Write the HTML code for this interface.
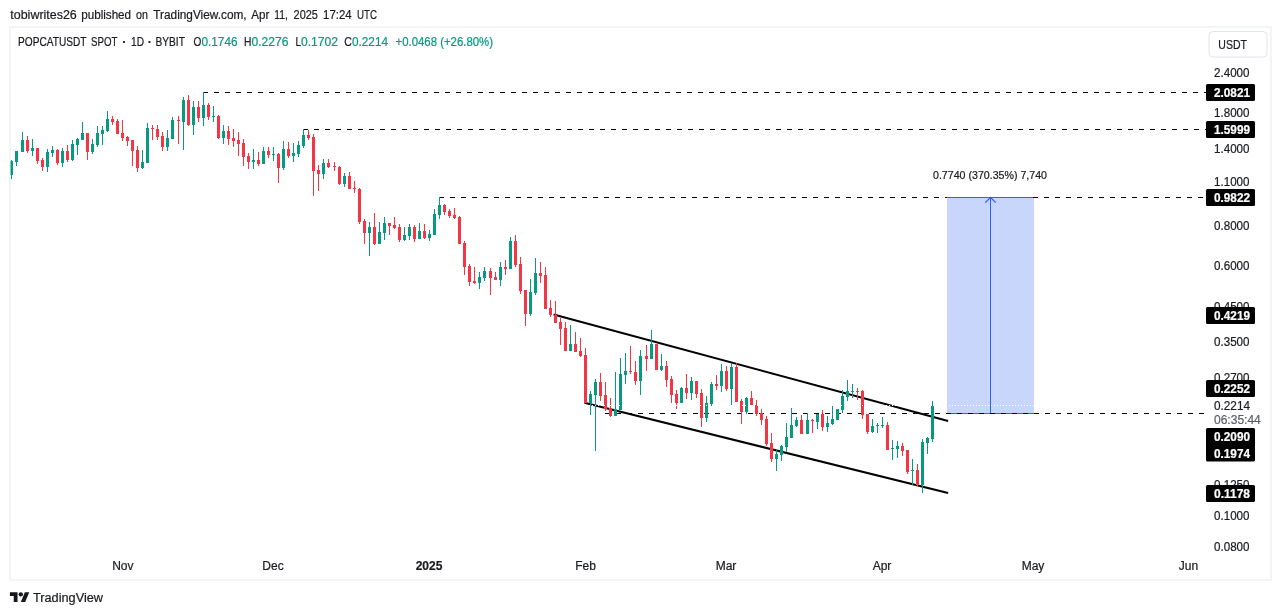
<!DOCTYPE html>
<html><head><meta charset="utf-8"><title>POPCATUSDT chart</title>
<style>
html,body{margin:0;padding:0;background:#fff;}
body{width:1281px;height:615px;overflow:hidden;position:relative;font-family:"Liberation Sans",sans-serif;}
svg{position:absolute;left:0;top:0;display:block;will-change:transform;}
text{font-family:"Liberation Sans",sans-serif;stroke-width:0.22px;}
</style></head><body>
<svg width="1281" height="615" viewBox="0 0 1281 615">
<rect x="0" y="0" width="1281" height="615" fill="#ffffff"/>

<rect x="10" y="27" width="1261" height="553" fill="none" stroke="#f3f4f5" stroke-width="2"/>
<g shape-rendering="crispEdges">
<rect x="947" y="198" width="87" height="215" fill="#c9d6fc"/>
<rect x="947" y="413" width="87" height="1" fill="#2962ff"/>
<rect x="990" y="198" width="1" height="215" fill="#2962ff"/>
</g>
<path d="M985.3 202.6 L990.5 197.4 L995.7 202.6" fill="none" stroke="#2962ff" stroke-width="1.3"/>
<g fill="#000" shape-rendering="crispEdges">
<rect x="203" y="92" width="5" height="1"/><rect x="214" y="92" width="5" height="1"/><rect x="225" y="92" width="5" height="1"/><rect x="236" y="92" width="5" height="1"/><rect x="247" y="92" width="5" height="1"/><rect x="258" y="92" width="5" height="1"/><rect x="269" y="92" width="5" height="1"/><rect x="280" y="92" width="5" height="1"/><rect x="291" y="92" width="5" height="1"/><rect x="302" y="92" width="5" height="1"/><rect x="313" y="92" width="5" height="1"/><rect x="324" y="92" width="5" height="1"/><rect x="335" y="92" width="5" height="1"/><rect x="346" y="92" width="5" height="1"/><rect x="357" y="92" width="5" height="1"/><rect x="368" y="92" width="5" height="1"/><rect x="379" y="92" width="5" height="1"/><rect x="390" y="92" width="5" height="1"/><rect x="401" y="92" width="5" height="1"/><rect x="412" y="92" width="5" height="1"/><rect x="423" y="92" width="5" height="1"/><rect x="434" y="92" width="5" height="1"/><rect x="445" y="92" width="5" height="1"/><rect x="456" y="92" width="5" height="1"/><rect x="467" y="92" width="5" height="1"/><rect x="478" y="92" width="5" height="1"/><rect x="489" y="92" width="5" height="1"/><rect x="500" y="92" width="5" height="1"/><rect x="511" y="92" width="5" height="1"/><rect x="522" y="92" width="5" height="1"/><rect x="533" y="92" width="5" height="1"/><rect x="544" y="92" width="5" height="1"/><rect x="555" y="92" width="5" height="1"/><rect x="566" y="92" width="5" height="1"/><rect x="577" y="92" width="5" height="1"/><rect x="588" y="92" width="5" height="1"/><rect x="599" y="92" width="5" height="1"/><rect x="610" y="92" width="5" height="1"/><rect x="621" y="92" width="5" height="1"/><rect x="632" y="92" width="5" height="1"/><rect x="643" y="92" width="5" height="1"/><rect x="654" y="92" width="5" height="1"/><rect x="665" y="92" width="5" height="1"/><rect x="676" y="92" width="5" height="1"/><rect x="687" y="92" width="5" height="1"/><rect x="698" y="92" width="5" height="1"/><rect x="709" y="92" width="5" height="1"/><rect x="720" y="92" width="5" height="1"/><rect x="731" y="92" width="5" height="1"/><rect x="742" y="92" width="5" height="1"/><rect x="753" y="92" width="5" height="1"/><rect x="764" y="92" width="5" height="1"/><rect x="775" y="92" width="5" height="1"/><rect x="786" y="92" width="5" height="1"/><rect x="797" y="92" width="5" height="1"/><rect x="808" y="92" width="5" height="1"/><rect x="819" y="92" width="5" height="1"/><rect x="830" y="92" width="5" height="1"/><rect x="841" y="92" width="5" height="1"/><rect x="852" y="92" width="5" height="1"/><rect x="863" y="92" width="5" height="1"/><rect x="874" y="92" width="5" height="1"/><rect x="885" y="92" width="5" height="1"/><rect x="896" y="92" width="5" height="1"/><rect x="907" y="92" width="5" height="1"/><rect x="918" y="92" width="5" height="1"/><rect x="929" y="92" width="5" height="1"/><rect x="940" y="92" width="5" height="1"/><rect x="951" y="92" width="5" height="1"/><rect x="962" y="92" width="5" height="1"/><rect x="973" y="92" width="5" height="1"/><rect x="984" y="92" width="5" height="1"/><rect x="995" y="92" width="5" height="1"/><rect x="1006" y="92" width="5" height="1"/><rect x="1017" y="92" width="5" height="1"/><rect x="1028" y="92" width="5" height="1"/><rect x="1039" y="92" width="5" height="1"/><rect x="1050" y="92" width="5" height="1"/><rect x="1061" y="92" width="5" height="1"/><rect x="1072" y="92" width="5" height="1"/><rect x="1083" y="92" width="5" height="1"/><rect x="1094" y="92" width="5" height="1"/><rect x="1105" y="92" width="5" height="1"/><rect x="1116" y="92" width="5" height="1"/><rect x="1127" y="92" width="5" height="1"/><rect x="1138" y="92" width="5" height="1"/><rect x="1149" y="92" width="5" height="1"/><rect x="1160" y="92" width="5" height="1"/><rect x="1171" y="92" width="5" height="1"/><rect x="1182" y="92" width="5" height="1"/><rect x="1193" y="92" width="5" height="1"/><rect x="1204" y="92" width="2" height="1"/>
<rect x="303" y="129" width="5" height="1"/><rect x="314" y="129" width="5" height="1"/><rect x="325" y="129" width="5" height="1"/><rect x="336" y="129" width="5" height="1"/><rect x="347" y="129" width="5" height="1"/><rect x="358" y="129" width="5" height="1"/><rect x="369" y="129" width="5" height="1"/><rect x="380" y="129" width="5" height="1"/><rect x="391" y="129" width="5" height="1"/><rect x="402" y="129" width="5" height="1"/><rect x="413" y="129" width="5" height="1"/><rect x="424" y="129" width="5" height="1"/><rect x="435" y="129" width="5" height="1"/><rect x="446" y="129" width="5" height="1"/><rect x="457" y="129" width="5" height="1"/><rect x="468" y="129" width="5" height="1"/><rect x="479" y="129" width="5" height="1"/><rect x="490" y="129" width="5" height="1"/><rect x="501" y="129" width="5" height="1"/><rect x="512" y="129" width="5" height="1"/><rect x="523" y="129" width="5" height="1"/><rect x="534" y="129" width="5" height="1"/><rect x="545" y="129" width="5" height="1"/><rect x="556" y="129" width="5" height="1"/><rect x="567" y="129" width="5" height="1"/><rect x="578" y="129" width="5" height="1"/><rect x="589" y="129" width="5" height="1"/><rect x="600" y="129" width="5" height="1"/><rect x="611" y="129" width="5" height="1"/><rect x="622" y="129" width="5" height="1"/><rect x="633" y="129" width="5" height="1"/><rect x="644" y="129" width="5" height="1"/><rect x="655" y="129" width="5" height="1"/><rect x="666" y="129" width="5" height="1"/><rect x="677" y="129" width="5" height="1"/><rect x="688" y="129" width="5" height="1"/><rect x="699" y="129" width="5" height="1"/><rect x="710" y="129" width="5" height="1"/><rect x="721" y="129" width="5" height="1"/><rect x="732" y="129" width="5" height="1"/><rect x="743" y="129" width="5" height="1"/><rect x="754" y="129" width="5" height="1"/><rect x="765" y="129" width="5" height="1"/><rect x="776" y="129" width="5" height="1"/><rect x="787" y="129" width="5" height="1"/><rect x="798" y="129" width="5" height="1"/><rect x="809" y="129" width="5" height="1"/><rect x="820" y="129" width="5" height="1"/><rect x="831" y="129" width="5" height="1"/><rect x="842" y="129" width="5" height="1"/><rect x="853" y="129" width="5" height="1"/><rect x="864" y="129" width="5" height="1"/><rect x="875" y="129" width="5" height="1"/><rect x="886" y="129" width="5" height="1"/><rect x="897" y="129" width="5" height="1"/><rect x="908" y="129" width="5" height="1"/><rect x="919" y="129" width="5" height="1"/><rect x="930" y="129" width="5" height="1"/><rect x="941" y="129" width="5" height="1"/><rect x="952" y="129" width="5" height="1"/><rect x="963" y="129" width="5" height="1"/><rect x="974" y="129" width="5" height="1"/><rect x="985" y="129" width="5" height="1"/><rect x="996" y="129" width="5" height="1"/><rect x="1007" y="129" width="5" height="1"/><rect x="1018" y="129" width="5" height="1"/><rect x="1029" y="129" width="5" height="1"/><rect x="1040" y="129" width="5" height="1"/><rect x="1051" y="129" width="5" height="1"/><rect x="1062" y="129" width="5" height="1"/><rect x="1073" y="129" width="5" height="1"/><rect x="1084" y="129" width="5" height="1"/><rect x="1095" y="129" width="5" height="1"/><rect x="1106" y="129" width="5" height="1"/><rect x="1117" y="129" width="5" height="1"/><rect x="1128" y="129" width="5" height="1"/><rect x="1139" y="129" width="5" height="1"/><rect x="1150" y="129" width="5" height="1"/><rect x="1161" y="129" width="5" height="1"/><rect x="1172" y="129" width="5" height="1"/><rect x="1183" y="129" width="5" height="1"/><rect x="1194" y="129" width="5" height="1"/><rect x="1205" y="129" width="1" height="1"/>
<rect x="439" y="197" width="5" height="1"/><rect x="450" y="197" width="5" height="1"/><rect x="461" y="197" width="5" height="1"/><rect x="472" y="197" width="5" height="1"/><rect x="483" y="197" width="5" height="1"/><rect x="494" y="197" width="5" height="1"/><rect x="505" y="197" width="5" height="1"/><rect x="516" y="197" width="5" height="1"/><rect x="527" y="197" width="5" height="1"/><rect x="538" y="197" width="5" height="1"/><rect x="549" y="197" width="5" height="1"/><rect x="560" y="197" width="5" height="1"/><rect x="571" y="197" width="5" height="1"/><rect x="582" y="197" width="5" height="1"/><rect x="593" y="197" width="5" height="1"/><rect x="604" y="197" width="5" height="1"/><rect x="615" y="197" width="5" height="1"/><rect x="626" y="197" width="5" height="1"/><rect x="637" y="197" width="5" height="1"/><rect x="648" y="197" width="5" height="1"/><rect x="659" y="197" width="5" height="1"/><rect x="670" y="197" width="5" height="1"/><rect x="681" y="197" width="5" height="1"/><rect x="692" y="197" width="5" height="1"/><rect x="703" y="197" width="5" height="1"/><rect x="714" y="197" width="5" height="1"/><rect x="725" y="197" width="5" height="1"/><rect x="736" y="197" width="5" height="1"/><rect x="747" y="197" width="5" height="1"/><rect x="758" y="197" width="5" height="1"/><rect x="769" y="197" width="5" height="1"/><rect x="780" y="197" width="5" height="1"/><rect x="791" y="197" width="5" height="1"/><rect x="802" y="197" width="5" height="1"/><rect x="813" y="197" width="5" height="1"/><rect x="824" y="197" width="5" height="1"/><rect x="835" y="197" width="5" height="1"/><rect x="846" y="197" width="5" height="1"/><rect x="857" y="197" width="5" height="1"/><rect x="868" y="197" width="5" height="1"/><rect x="879" y="197" width="5" height="1"/><rect x="890" y="197" width="5" height="1"/><rect x="901" y="197" width="5" height="1"/><rect x="912" y="197" width="5" height="1"/><rect x="923" y="197" width="5" height="1"/><rect x="934" y="197" width="5" height="1"/><rect x="945" y="197" width="5" height="1"/><rect x="956" y="197" width="5" height="1"/><rect x="967" y="197" width="5" height="1"/><rect x="978" y="197" width="5" height="1"/><rect x="989" y="197" width="5" height="1"/><rect x="1000" y="197" width="5" height="1"/><rect x="1011" y="197" width="5" height="1"/><rect x="1022" y="197" width="5" height="1"/><rect x="1033" y="197" width="5" height="1"/><rect x="1044" y="197" width="5" height="1"/><rect x="1055" y="197" width="5" height="1"/><rect x="1066" y="197" width="5" height="1"/><rect x="1077" y="197" width="5" height="1"/><rect x="1088" y="197" width="5" height="1"/><rect x="1099" y="197" width="5" height="1"/><rect x="1110" y="197" width="5" height="1"/><rect x="1121" y="197" width="5" height="1"/><rect x="1132" y="197" width="5" height="1"/><rect x="1143" y="197" width="5" height="1"/><rect x="1154" y="197" width="5" height="1"/><rect x="1165" y="197" width="5" height="1"/><rect x="1176" y="197" width="5" height="1"/><rect x="1187" y="197" width="5" height="1"/><rect x="1198" y="197" width="5" height="1"/>
<rect x="605" y="413" width="5" height="1"/><rect x="616" y="413" width="5" height="1"/><rect x="627" y="413" width="5" height="1"/><rect x="638" y="413" width="5" height="1"/><rect x="649" y="413" width="5" height="1"/><rect x="660" y="413" width="5" height="1"/><rect x="671" y="413" width="5" height="1"/><rect x="682" y="413" width="5" height="1"/><rect x="693" y="413" width="5" height="1"/><rect x="704" y="413" width="5" height="1"/><rect x="715" y="413" width="5" height="1"/><rect x="726" y="413" width="5" height="1"/><rect x="737" y="413" width="5" height="1"/><rect x="748" y="413" width="5" height="1"/><rect x="759" y="413" width="5" height="1"/><rect x="770" y="413" width="5" height="1"/><rect x="781" y="413" width="5" height="1"/><rect x="792" y="413" width="5" height="1"/><rect x="803" y="413" width="5" height="1"/><rect x="814" y="413" width="5" height="1"/><rect x="825" y="413" width="5" height="1"/><rect x="836" y="413" width="5" height="1"/><rect x="847" y="413" width="5" height="1"/><rect x="858" y="413" width="5" height="1"/><rect x="869" y="413" width="5" height="1"/><rect x="880" y="413" width="5" height="1"/><rect x="891" y="413" width="5" height="1"/><rect x="902" y="413" width="5" height="1"/><rect x="913" y="413" width="5" height="1"/><rect x="924" y="413" width="5" height="1"/><rect x="935" y="413" width="5" height="1"/><rect x="946" y="413" width="5" height="1"/><rect x="957" y="413" width="5" height="1"/><rect x="968" y="413" width="5" height="1"/><rect x="979" y="413" width="5" height="1"/><rect x="990" y="413" width="5" height="1"/><rect x="1001" y="413" width="5" height="1"/><rect x="1012" y="413" width="5" height="1"/><rect x="1023" y="413" width="5" height="1"/><rect x="1034" y="413" width="5" height="1"/><rect x="1045" y="413" width="5" height="1"/><rect x="1056" y="413" width="5" height="1"/><rect x="1067" y="413" width="5" height="1"/><rect x="1078" y="413" width="5" height="1"/><rect x="1089" y="413" width="5" height="1"/><rect x="1100" y="413" width="5" height="1"/><rect x="1111" y="413" width="5" height="1"/><rect x="1122" y="413" width="5" height="1"/><rect x="1133" y="413" width="5" height="1"/><rect x="1144" y="413" width="5" height="1"/><rect x="1155" y="413" width="5" height="1"/><rect x="1166" y="413" width="5" height="1"/><rect x="1177" y="413" width="5" height="1"/><rect x="1188" y="413" width="5" height="1"/><rect x="1199" y="413" width="5" height="1"/>
</g>
<rect x="947" y="197" width="86" height="1" fill="#2962ff" shape-rendering="crispEdges"/>
<g stroke="#000" stroke-width="2.1" stroke-linecap="butt">
<line x1="553.6" y1="314.45" x2="948.1" y2="421"/>
<line x1="584.4" y1="402.8" x2="948.1" y2="493"/>
</g>
<g shape-rendering="crispEdges">
<rect x="10" y="161" width="1" height="14" fill="#7fc9bd"/>
<rect x="11" y="160" width="1" height="19" fill="#089981"/><rect x="11" y="161" width="2" height="14" fill="#089981"/>
<rect x="16" y="151" width="1" height="15" fill="#089981"/><rect x="15" y="151" width="3" height="11" fill="#089981"/>
<rect x="22" y="132" width="1" height="20" fill="#089981"/><rect x="21" y="140" width="3" height="12" fill="#089981"/>
<rect x="27" y="136" width="1" height="17" fill="#f23645"/><rect x="26" y="140" width="3" height="11" fill="#f23645"/>
<rect x="32" y="139" width="1" height="17" fill="#089981"/><rect x="31" y="148" width="3" height="3" fill="#089981"/>
<rect x="37" y="148" width="1" height="16" fill="#f23645"/><rect x="36" y="148" width="3" height="13" fill="#f23645"/>
<rect x="42" y="158" width="1" height="13" fill="#f23645"/><rect x="41" y="160" width="3" height="7" fill="#f23645"/>
<rect x="47" y="149" width="1" height="23" fill="#089981"/><rect x="46" y="152" width="3" height="15" fill="#089981"/>
<rect x="52" y="146" width="1" height="11" fill="#089981"/><rect x="51" y="150" width="3" height="3" fill="#089981"/>
<rect x="57" y="149" width="1" height="16" fill="#f23645"/><rect x="56" y="150" width="3" height="13" fill="#f23645"/>
<rect x="62" y="148" width="1" height="19" fill="#089981"/><rect x="61" y="151" width="3" height="12" fill="#089981"/>
<rect x="67" y="145" width="1" height="17" fill="#f23645"/><rect x="66" y="151" width="3" height="9" fill="#f23645"/>
<rect x="72" y="140" width="1" height="21" fill="#089981"/><rect x="71" y="144" width="3" height="16" fill="#089981"/>
<rect x="77" y="138" width="1" height="17" fill="#089981"/><rect x="76" y="139" width="3" height="6" fill="#089981"/>
<rect x="82" y="122" width="1" height="18" fill="#089981"/><rect x="81" y="133" width="3" height="7" fill="#089981"/>
<rect x="87" y="133" width="1" height="27" fill="#f23645"/><rect x="86" y="133" width="3" height="19" fill="#f23645"/>
<rect x="92" y="139" width="1" height="15" fill="#089981"/><rect x="91" y="144" width="3" height="8" fill="#089981"/>
<rect x="97" y="126" width="1" height="21" fill="#089981"/><rect x="96" y="133" width="3" height="12" fill="#089981"/>
<rect x="102" y="126" width="1" height="19" fill="#089981"/><rect x="101" y="130" width="3" height="4" fill="#089981"/>
<rect x="107" y="111" width="1" height="21" fill="#089981"/><rect x="106" y="119" width="3" height="12" fill="#089981"/>
<rect x="112" y="116" width="1" height="9" fill="#f23645"/><rect x="111" y="119" width="3" height="3" fill="#f23645"/>
<rect x="117" y="119" width="1" height="15" fill="#f23645"/><rect x="116" y="121" width="3" height="13" fill="#f23645"/>
<rect x="122" y="120" width="1" height="21" fill="#f23645"/><rect x="121" y="133" width="3" height="5" fill="#f23645"/>
<rect x="127" y="136" width="1" height="10" fill="#f23645"/><rect x="126" y="137" width="3" height="4" fill="#f23645"/>
<rect x="132" y="140" width="1" height="26" fill="#f23645"/><rect x="131" y="140" width="3" height="11" fill="#f23645"/>
<rect x="137" y="146" width="1" height="26" fill="#f23645"/><rect x="136" y="150" width="3" height="18" fill="#f23645"/>
<rect x="142" y="150" width="1" height="19" fill="#089981"/><rect x="141" y="162" width="3" height="6" fill="#089981"/>
<rect x="147" y="123" width="1" height="40" fill="#089981"/><rect x="146" y="128" width="3" height="35" fill="#089981"/>
<rect x="152" y="125" width="1" height="15" fill="#f23645"/><rect x="151" y="128" width="3" height="1" fill="#f23645"/>
<rect x="157" y="125" width="1" height="15" fill="#f23645"/><rect x="156" y="129" width="3" height="8" fill="#f23645"/>
<rect x="162" y="132" width="1" height="19" fill="#f23645"/><rect x="161" y="136" width="3" height="11" fill="#f23645"/>
<rect x="167" y="130" width="1" height="21" fill="#089981"/><rect x="166" y="138" width="3" height="9" fill="#089981"/>
<rect x="172" y="117" width="1" height="22" fill="#089981"/><rect x="171" y="120" width="3" height="19" fill="#089981"/>
<rect x="178" y="116" width="1" height="28" fill="#f23645"/><rect x="177" y="120" width="3" height="1" fill="#f23645"/>
<rect x="183" y="97" width="1" height="53" fill="#089981"/><rect x="182" y="100" width="3" height="22" fill="#089981"/>
<rect x="188" y="95" width="1" height="31" fill="#f23645"/><rect x="187" y="100" width="3" height="25" fill="#f23645"/>
<rect x="193" y="101" width="1" height="34" fill="#089981"/><rect x="192" y="107" width="3" height="18" fill="#089981"/>
<rect x="198" y="101" width="1" height="21" fill="#f23645"/><rect x="197" y="107" width="3" height="11" fill="#f23645"/>
<rect x="203" y="92" width="1" height="34" fill="#089981"/><rect x="202" y="105" width="3" height="13" fill="#089981"/>
<rect x="208" y="103" width="1" height="17" fill="#f23645"/><rect x="207" y="105" width="3" height="12" fill="#f23645"/>
<rect x="213" y="106" width="1" height="16" fill="#089981"/><rect x="212" y="116" width="3" height="1" fill="#089981"/>
<rect x="218" y="115" width="1" height="24" fill="#f23645"/><rect x="217" y="116" width="3" height="22" fill="#f23645"/>
<rect x="223" y="125" width="1" height="19" fill="#089981"/><rect x="222" y="131" width="3" height="7" fill="#089981"/>
<rect x="228" y="126" width="1" height="19" fill="#f23645"/><rect x="227" y="131" width="3" height="8" fill="#f23645"/>
<rect x="233" y="129" width="1" height="18" fill="#f23645"/><rect x="232" y="138" width="3" height="3" fill="#f23645"/>
<rect x="238" y="132" width="1" height="24" fill="#f23645"/><rect x="237" y="140" width="3" height="4" fill="#f23645"/>
<rect x="243" y="139" width="1" height="27" fill="#f23645"/><rect x="242" y="143" width="3" height="14" fill="#f23645"/>
<rect x="248" y="153" width="1" height="16" fill="#f23645"/><rect x="247" y="156" width="3" height="6" fill="#f23645"/>
<rect x="253" y="149" width="1" height="20" fill="#089981"/><rect x="252" y="160" width="3" height="2" fill="#089981"/>
<rect x="258" y="152" width="1" height="14" fill="#f23645"/><rect x="257" y="160" width="3" height="4" fill="#f23645"/>
<rect x="263" y="147" width="1" height="17" fill="#089981"/><rect x="262" y="151" width="3" height="13" fill="#089981"/>
<rect x="268" y="147" width="1" height="11" fill="#f23645"/><rect x="267" y="151" width="3" height="4" fill="#f23645"/>
<rect x="273" y="147" width="1" height="14" fill="#089981"/><rect x="272" y="154" width="3" height="1" fill="#089981"/>
<rect x="278" y="153" width="1" height="30" fill="#f23645"/><rect x="277" y="154" width="3" height="14" fill="#f23645"/>
<rect x="283" y="141" width="1" height="29" fill="#089981"/><rect x="282" y="149" width="3" height="19" fill="#089981"/>
<rect x="288" y="142" width="1" height="16" fill="#f23645"/><rect x="287" y="149" width="3" height="7" fill="#f23645"/>
<rect x="293" y="143" width="1" height="19" fill="#089981"/><rect x="292" y="153" width="3" height="3" fill="#089981"/>
<rect x="298" y="141" width="1" height="16" fill="#089981"/><rect x="297" y="145" width="3" height="9" fill="#089981"/>
<rect x="303" y="129" width="1" height="19" fill="#089981"/><rect x="302" y="135" width="3" height="11" fill="#089981"/>
<rect x="308" y="130" width="1" height="10" fill="#f23645"/><rect x="307" y="135" width="3" height="3" fill="#f23645"/>
<rect x="313" y="134" width="1" height="62" fill="#f23645"/><rect x="312" y="137" width="3" height="34" fill="#f23645"/>
<rect x="318" y="165" width="1" height="26" fill="#f23645"/><rect x="317" y="170" width="3" height="4" fill="#f23645"/>
<rect x="323" y="159" width="1" height="20" fill="#089981"/><rect x="322" y="163" width="3" height="11" fill="#089981"/>
<rect x="328" y="159" width="1" height="9" fill="#f23645"/><rect x="327" y="163" width="3" height="4" fill="#f23645"/>
<rect x="334" y="162" width="1" height="9" fill="#f23645"/><rect x="333" y="166" width="3" height="1" fill="#f23645"/>
<rect x="339" y="166" width="1" height="19" fill="#f23645"/><rect x="338" y="167" width="3" height="17" fill="#f23645"/>
<rect x="344" y="173" width="1" height="14" fill="#089981"/><rect x="343" y="176" width="3" height="8" fill="#089981"/>
<rect x="349" y="172" width="1" height="17" fill="#f23645"/><rect x="348" y="176" width="3" height="13" fill="#f23645"/>
<rect x="354" y="181" width="1" height="12" fill="#f23645"/><rect x="353" y="188" width="3" height="1" fill="#f23645"/>
<rect x="359" y="188" width="1" height="36" fill="#f23645"/><rect x="358" y="189" width="3" height="33" fill="#f23645"/>
<rect x="364" y="219" width="1" height="25" fill="#f23645"/><rect x="363" y="221" width="3" height="12" fill="#f23645"/>
<rect x="369" y="222" width="1" height="34" fill="#089981"/><rect x="368" y="227" width="3" height="6" fill="#089981"/>
<rect x="374" y="213" width="1" height="32" fill="#f23645"/><rect x="373" y="227" width="3" height="17" fill="#f23645"/>
<rect x="379" y="222" width="1" height="22" fill="#089981"/><rect x="378" y="232" width="3" height="12" fill="#089981"/>
<rect x="384" y="217" width="1" height="23" fill="#089981"/><rect x="383" y="223" width="3" height="10" fill="#089981"/>
<rect x="389" y="223" width="1" height="12" fill="#f23645"/><rect x="388" y="223" width="3" height="3" fill="#f23645"/>
<rect x="394" y="217" width="1" height="12" fill="#f23645"/><rect x="393" y="225" width="3" height="3" fill="#f23645"/>
<rect x="399" y="224" width="1" height="18" fill="#f23645"/><rect x="398" y="227" width="3" height="13" fill="#f23645"/>
<rect x="404" y="227" width="1" height="14" fill="#089981"/><rect x="403" y="235" width="3" height="5" fill="#089981"/>
<rect x="409" y="224" width="1" height="16" fill="#089981"/><rect x="408" y="227" width="3" height="9" fill="#089981"/>
<rect x="414" y="225" width="1" height="17" fill="#f23645"/><rect x="413" y="227" width="3" height="12" fill="#f23645"/>
<rect x="419" y="223" width="1" height="16" fill="#089981"/><rect x="418" y="231" width="3" height="8" fill="#089981"/>
<rect x="424" y="224" width="1" height="15" fill="#f23645"/><rect x="423" y="231" width="3" height="7" fill="#f23645"/>
<rect x="429" y="230" width="1" height="11" fill="#089981"/><rect x="428" y="234" width="3" height="4" fill="#089981"/>
<rect x="434" y="209" width="1" height="26" fill="#089981"/><rect x="433" y="214" width="3" height="21" fill="#089981"/>
<rect x="439" y="197" width="1" height="22" fill="#089981"/><rect x="438" y="205" width="3" height="10" fill="#089981"/>
<rect x="444" y="204" width="1" height="11" fill="#f23645"/><rect x="443" y="205" width="3" height="7" fill="#f23645"/>
<rect x="449" y="209" width="1" height="9" fill="#f23645"/><rect x="448" y="211" width="3" height="5" fill="#f23645"/>
<rect x="454" y="208" width="1" height="11" fill="#f23645"/><rect x="453" y="215" width="3" height="3" fill="#f23645"/>
<rect x="459" y="216" width="1" height="28" fill="#f23645"/><rect x="458" y="217" width="3" height="27" fill="#f23645"/>
<rect x="464" y="241" width="1" height="34" fill="#f23645"/><rect x="463" y="243" width="3" height="24" fill="#f23645"/>
<rect x="469" y="264" width="1" height="22" fill="#f23645"/><rect x="468" y="266" width="3" height="16" fill="#f23645"/>
<rect x="474" y="267" width="1" height="17" fill="#f23645"/><rect x="473" y="281" width="3" height="2" fill="#f23645"/>
<rect x="479" y="272" width="1" height="17" fill="#089981"/><rect x="478" y="277" width="3" height="6" fill="#089981"/>
<rect x="484" y="267" width="1" height="14" fill="#089981"/><rect x="483" y="271" width="3" height="7" fill="#089981"/>
<rect x="490" y="268" width="1" height="27" fill="#f23645"/><rect x="489" y="271" width="3" height="7" fill="#f23645"/>
<rect x="495" y="272" width="1" height="8" fill="#f23645"/><rect x="494" y="277" width="3" height="3" fill="#f23645"/>
<rect x="500" y="262" width="1" height="24" fill="#089981"/><rect x="499" y="267" width="3" height="13" fill="#089981"/>
<rect x="505" y="260" width="1" height="15" fill="#f23645"/><rect x="504" y="267" width="3" height="2" fill="#f23645"/>
<rect x="510" y="237" width="1" height="32" fill="#089981"/><rect x="509" y="241" width="3" height="28" fill="#089981"/>
<rect x="515" y="235" width="1" height="32" fill="#f23645"/><rect x="514" y="241" width="3" height="24" fill="#f23645"/>
<rect x="520" y="257" width="1" height="37" fill="#f23645"/><rect x="519" y="264" width="3" height="27" fill="#f23645"/>
<rect x="525" y="290" width="1" height="36" fill="#f23645"/><rect x="524" y="290" width="3" height="24" fill="#f23645"/>
<rect x="530" y="279" width="1" height="37" fill="#089981"/><rect x="529" y="292" width="3" height="22" fill="#089981"/>
<rect x="535" y="258" width="1" height="37" fill="#089981"/><rect x="534" y="273" width="3" height="20" fill="#089981"/>
<rect x="540" y="262" width="1" height="21" fill="#f23645"/><rect x="539" y="273" width="3" height="3" fill="#f23645"/>
<rect x="545" y="267" width="1" height="42" fill="#f23645"/><rect x="544" y="275" width="3" height="34" fill="#f23645"/>
<rect x="550" y="300" width="1" height="17" fill="#f23645"/><rect x="549" y="308" width="3" height="7" fill="#f23645"/>
<rect x="555" y="301" width="1" height="22" fill="#f23645"/><rect x="554" y="315" width="3" height="8" fill="#f23645"/>
<rect x="560" y="318" width="1" height="27" fill="#f23645"/><rect x="559" y="322" width="3" height="7" fill="#f23645"/>
<rect x="565" y="322" width="1" height="29" fill="#f23645"/><rect x="564" y="328" width="3" height="23" fill="#f23645"/>
<rect x="570" y="325" width="1" height="26" fill="#089981"/><rect x="569" y="344" width="3" height="7" fill="#089981"/>
<rect x="575" y="332" width="1" height="20" fill="#f23645"/><rect x="574" y="344" width="3" height="8" fill="#f23645"/>
<rect x="580" y="338" width="1" height="19" fill="#f23645"/><rect x="579" y="351" width="3" height="5" fill="#f23645"/>
<rect x="585" y="348" width="1" height="55" fill="#f23645"/><rect x="584" y="355" width="3" height="48" fill="#f23645"/>
<rect x="590" y="391" width="1" height="24" fill="#089981"/><rect x="589" y="394" width="3" height="9" fill="#089981"/>
<rect x="595" y="379" width="1" height="72" fill="#089981"/><rect x="594" y="382" width="3" height="13" fill="#089981"/>
<rect x="600" y="373" width="1" height="28" fill="#f23645"/><rect x="599" y="382" width="3" height="14" fill="#f23645"/>
<rect x="605" y="382" width="1" height="29" fill="#f23645"/><rect x="604" y="395" width="3" height="14" fill="#f23645"/>
<rect x="610" y="398" width="1" height="19" fill="#f23645"/><rect x="609" y="408" width="3" height="8" fill="#f23645"/>
<rect x="615" y="372" width="1" height="44" fill="#089981"/><rect x="614" y="409" width="3" height="7" fill="#089981"/>
<rect x="620" y="358" width="1" height="52" fill="#089981"/><rect x="619" y="374" width="3" height="36" fill="#089981"/>
<rect x="625" y="353" width="1" height="31" fill="#089981"/><rect x="624" y="371" width="3" height="4" fill="#089981"/>
<rect x="630" y="346" width="1" height="28" fill="#f23645"/><rect x="629" y="371" width="3" height="1" fill="#f23645"/>
<rect x="635" y="361" width="1" height="24" fill="#f23645"/><rect x="634" y="372" width="3" height="9" fill="#f23645"/>
<rect x="640" y="350" width="1" height="45" fill="#089981"/><rect x="639" y="356" width="3" height="25" fill="#089981"/>
<rect x="646" y="345" width="1" height="26" fill="#f23645"/><rect x="645" y="356" width="3" height="3" fill="#f23645"/>
<rect x="651" y="330" width="1" height="29" fill="#089981"/><rect x="650" y="344" width="3" height="15" fill="#089981"/>
<rect x="656" y="344" width="1" height="26" fill="#f23645"/><rect x="655" y="344" width="3" height="26" fill="#f23645"/>
<rect x="661" y="354" width="1" height="17" fill="#089981"/><rect x="660" y="366" width="3" height="4" fill="#089981"/>
<rect x="666" y="361" width="1" height="26" fill="#f23645"/><rect x="665" y="366" width="3" height="14" fill="#f23645"/>
<rect x="671" y="376" width="1" height="27" fill="#f23645"/><rect x="670" y="379" width="3" height="16" fill="#f23645"/>
<rect x="676" y="390" width="1" height="19" fill="#f23645"/><rect x="675" y="394" width="3" height="9" fill="#f23645"/>
<rect x="681" y="387" width="1" height="16" fill="#089981"/><rect x="680" y="388" width="3" height="15" fill="#089981"/>
<rect x="686" y="374" width="1" height="25" fill="#f23645"/><rect x="685" y="388" width="3" height="5" fill="#f23645"/>
<rect x="691" y="377" width="1" height="23" fill="#089981"/><rect x="690" y="381" width="3" height="12" fill="#089981"/>
<rect x="696" y="381" width="1" height="17" fill="#f23645"/><rect x="695" y="381" width="3" height="13" fill="#f23645"/>
<rect x="701" y="389" width="1" height="38" fill="#f23645"/><rect x="700" y="393" width="3" height="25" fill="#f23645"/>
<rect x="706" y="396" width="1" height="26" fill="#089981"/><rect x="705" y="403" width="3" height="15" fill="#089981"/>
<rect x="711" y="382" width="1" height="24" fill="#089981"/><rect x="710" y="384" width="3" height="20" fill="#089981"/>
<rect x="716" y="375" width="1" height="15" fill="#f23645"/><rect x="715" y="384" width="3" height="2" fill="#f23645"/>
<rect x="721" y="364" width="1" height="28" fill="#089981"/><rect x="720" y="371" width="3" height="15" fill="#089981"/>
<rect x="726" y="366" width="1" height="25" fill="#f23645"/><rect x="725" y="371" width="3" height="18" fill="#f23645"/>
<rect x="731" y="363" width="1" height="42" fill="#089981"/><rect x="730" y="367" width="3" height="22" fill="#089981"/>
<rect x="736" y="363" width="1" height="39" fill="#f23645"/><rect x="735" y="367" width="3" height="35" fill="#f23645"/>
<rect x="741" y="399" width="1" height="25" fill="#f23645"/><rect x="740" y="401" width="3" height="11" fill="#f23645"/>
<rect x="746" y="397" width="1" height="17" fill="#089981"/><rect x="745" y="398" width="3" height="14" fill="#089981"/>
<rect x="751" y="391" width="1" height="15" fill="#f23645"/><rect x="750" y="398" width="3" height="7" fill="#f23645"/>
<rect x="756" y="400" width="1" height="16" fill="#f23645"/><rect x="755" y="405" width="3" height="9" fill="#f23645"/>
<rect x="761" y="409" width="1" height="16" fill="#f23645"/><rect x="760" y="413" width="3" height="7" fill="#f23645"/>
<rect x="766" y="416" width="1" height="30" fill="#f23645"/><rect x="765" y="419" width="3" height="25" fill="#f23645"/>
<rect x="771" y="433" width="1" height="29" fill="#f23645"/><rect x="770" y="443" width="3" height="16" fill="#f23645"/>
<rect x="776" y="449" width="1" height="22" fill="#089981"/><rect x="775" y="454" width="3" height="5" fill="#089981"/>
<rect x="781" y="445" width="1" height="16" fill="#089981"/><rect x="780" y="446" width="3" height="9" fill="#089981"/>
<rect x="786" y="423" width="1" height="29" fill="#089981"/><rect x="785" y="437" width="3" height="10" fill="#089981"/>
<rect x="791" y="408" width="1" height="30" fill="#089981"/><rect x="790" y="425" width="3" height="13" fill="#089981"/>
<rect x="796" y="417" width="1" height="10" fill="#089981"/><rect x="795" y="420" width="3" height="6" fill="#089981"/>
<rect x="801" y="415" width="1" height="19" fill="#f23645"/><rect x="800" y="420" width="3" height="14" fill="#f23645"/>
<rect x="807" y="413" width="1" height="21" fill="#089981"/><rect x="806" y="420" width="3" height="14" fill="#089981"/>
<rect x="812" y="419" width="1" height="14" fill="#f23645"/><rect x="811" y="420" width="3" height="1" fill="#f23645"/>
<rect x="817" y="414" width="1" height="15" fill="#089981"/><rect x="816" y="414" width="3" height="8" fill="#089981"/>
<rect x="822" y="410" width="1" height="21" fill="#f23645"/><rect x="821" y="414" width="3" height="13" fill="#f23645"/>
<rect x="827" y="416" width="1" height="16" fill="#089981"/><rect x="826" y="423" width="3" height="4" fill="#089981"/>
<rect x="832" y="406" width="1" height="19" fill="#089981"/><rect x="831" y="419" width="3" height="5" fill="#089981"/>
<rect x="837" y="409" width="1" height="11" fill="#089981"/><rect x="836" y="409" width="3" height="11" fill="#089981"/>
<rect x="842" y="390" width="1" height="23" fill="#089981"/><rect x="841" y="396" width="3" height="14" fill="#089981"/>
<rect x="847" y="380" width="1" height="21" fill="#089981"/><rect x="846" y="391" width="3" height="6" fill="#089981"/>
<rect x="852" y="384" width="1" height="14" fill="#089981"/><rect x="851" y="391" width="3" height="1" fill="#089981"/>
<rect x="857" y="388" width="1" height="12" fill="#f23645"/><rect x="856" y="391" width="3" height="1" fill="#f23645"/>
<rect x="862" y="390" width="1" height="29" fill="#f23645"/><rect x="861" y="391" width="3" height="24" fill="#f23645"/>
<rect x="867" y="414" width="1" height="20" fill="#f23645"/><rect x="866" y="414" width="3" height="18" fill="#f23645"/>
<rect x="872" y="419" width="1" height="14" fill="#089981"/><rect x="871" y="426" width="3" height="6" fill="#089981"/>
<rect x="877" y="423" width="1" height="10" fill="#089981"/><rect x="876" y="425" width="3" height="1" fill="#089981"/>
<rect x="882" y="417" width="1" height="11" fill="#089981"/><rect x="881" y="425" width="3" height="1" fill="#089981"/>
<rect x="887" y="422" width="1" height="28" fill="#f23645"/><rect x="886" y="425" width="3" height="25" fill="#f23645"/>
<rect x="892" y="440" width="1" height="20" fill="#089981"/><rect x="891" y="448" width="3" height="1" fill="#089981"/>
<rect x="897" y="441" width="1" height="17" fill="#089981"/><rect x="896" y="446" width="3" height="3" fill="#089981"/>
<rect x="902" y="443" width="1" height="13" fill="#f23645"/><rect x="901" y="446" width="3" height="5" fill="#f23645"/>
<rect x="907" y="450" width="1" height="24" fill="#f23645"/><rect x="906" y="450" width="3" height="22" fill="#f23645"/>
<rect x="912" y="459" width="1" height="26" fill="#089981"/><rect x="911" y="470" width="3" height="1" fill="#089981"/>
<rect x="917" y="464" width="1" height="22" fill="#f23645"/><rect x="916" y="470" width="3" height="15" fill="#f23645"/>
<rect x="922" y="439" width="1" height="54" fill="#089981"/><rect x="921" y="442" width="3" height="43" fill="#089981"/>
<rect x="927" y="437" width="1" height="17" fill="#089981"/><rect x="926" y="438" width="3" height="5" fill="#089981"/>
<rect x="932" y="401" width="1" height="41" fill="#089981"/><rect x="931" y="406" width="3" height="33" fill="#089981"/>
</g>
<g fill="#fff" shape-rendering="crispEdges">
<rect x="13" y="405" width="1" height="1"/><rect x="16" y="405" width="1" height="1"/><rect x="19" y="405" width="1" height="1"/><rect x="22" y="405" width="1" height="1"/><rect x="25" y="405" width="1" height="1"/><rect x="28" y="405" width="1" height="1"/><rect x="31" y="405" width="1" height="1"/><rect x="34" y="405" width="1" height="1"/><rect x="37" y="405" width="1" height="1"/><rect x="40" y="405" width="1" height="1"/><rect x="43" y="405" width="1" height="1"/><rect x="46" y="405" width="1" height="1"/><rect x="49" y="405" width="1" height="1"/><rect x="52" y="405" width="1" height="1"/><rect x="55" y="405" width="1" height="1"/><rect x="58" y="405" width="1" height="1"/><rect x="61" y="405" width="1" height="1"/><rect x="64" y="405" width="1" height="1"/><rect x="67" y="405" width="1" height="1"/><rect x="70" y="405" width="1" height="1"/><rect x="73" y="405" width="1" height="1"/><rect x="76" y="405" width="1" height="1"/><rect x="79" y="405" width="1" height="1"/><rect x="82" y="405" width="1" height="1"/><rect x="85" y="405" width="1" height="1"/><rect x="88" y="405" width="1" height="1"/><rect x="91" y="405" width="1" height="1"/><rect x="94" y="405" width="1" height="1"/><rect x="97" y="405" width="1" height="1"/><rect x="100" y="405" width="1" height="1"/><rect x="103" y="405" width="1" height="1"/><rect x="106" y="405" width="1" height="1"/><rect x="109" y="405" width="1" height="1"/><rect x="112" y="405" width="1" height="1"/><rect x="115" y="405" width="1" height="1"/><rect x="118" y="405" width="1" height="1"/><rect x="121" y="405" width="1" height="1"/><rect x="124" y="405" width="1" height="1"/><rect x="127" y="405" width="1" height="1"/><rect x="130" y="405" width="1" height="1"/><rect x="133" y="405" width="1" height="1"/><rect x="136" y="405" width="1" height="1"/><rect x="139" y="405" width="1" height="1"/><rect x="142" y="405" width="1" height="1"/><rect x="145" y="405" width="1" height="1"/><rect x="148" y="405" width="1" height="1"/><rect x="151" y="405" width="1" height="1"/><rect x="154" y="405" width="1" height="1"/><rect x="157" y="405" width="1" height="1"/><rect x="160" y="405" width="1" height="1"/><rect x="163" y="405" width="1" height="1"/><rect x="166" y="405" width="1" height="1"/><rect x="169" y="405" width="1" height="1"/><rect x="172" y="405" width="1" height="1"/><rect x="175" y="405" width="1" height="1"/><rect x="178" y="405" width="1" height="1"/><rect x="181" y="405" width="1" height="1"/><rect x="184" y="405" width="1" height="1"/><rect x="187" y="405" width="1" height="1"/><rect x="190" y="405" width="1" height="1"/><rect x="193" y="405" width="1" height="1"/><rect x="196" y="405" width="1" height="1"/><rect x="199" y="405" width="1" height="1"/><rect x="202" y="405" width="1" height="1"/><rect x="205" y="405" width="1" height="1"/><rect x="208" y="405" width="1" height="1"/><rect x="211" y="405" width="1" height="1"/><rect x="214" y="405" width="1" height="1"/><rect x="217" y="405" width="1" height="1"/><rect x="220" y="405" width="1" height="1"/><rect x="223" y="405" width="1" height="1"/><rect x="226" y="405" width="1" height="1"/><rect x="229" y="405" width="1" height="1"/><rect x="232" y="405" width="1" height="1"/><rect x="235" y="405" width="1" height="1"/><rect x="238" y="405" width="1" height="1"/><rect x="241" y="405" width="1" height="1"/><rect x="244" y="405" width="1" height="1"/><rect x="247" y="405" width="1" height="1"/><rect x="250" y="405" width="1" height="1"/><rect x="253" y="405" width="1" height="1"/><rect x="256" y="405" width="1" height="1"/><rect x="259" y="405" width="1" height="1"/><rect x="262" y="405" width="1" height="1"/><rect x="265" y="405" width="1" height="1"/><rect x="268" y="405" width="1" height="1"/><rect x="271" y="405" width="1" height="1"/><rect x="274" y="405" width="1" height="1"/><rect x="277" y="405" width="1" height="1"/><rect x="280" y="405" width="1" height="1"/><rect x="283" y="405" width="1" height="1"/><rect x="286" y="405" width="1" height="1"/><rect x="289" y="405" width="1" height="1"/><rect x="292" y="405" width="1" height="1"/><rect x="295" y="405" width="1" height="1"/><rect x="298" y="405" width="1" height="1"/><rect x="301" y="405" width="1" height="1"/><rect x="304" y="405" width="1" height="1"/><rect x="307" y="405" width="1" height="1"/><rect x="310" y="405" width="1" height="1"/><rect x="313" y="405" width="1" height="1"/><rect x="316" y="405" width="1" height="1"/><rect x="319" y="405" width="1" height="1"/><rect x="322" y="405" width="1" height="1"/><rect x="325" y="405" width="1" height="1"/><rect x="328" y="405" width="1" height="1"/><rect x="331" y="405" width="1" height="1"/><rect x="334" y="405" width="1" height="1"/><rect x="337" y="405" width="1" height="1"/><rect x="340" y="405" width="1" height="1"/><rect x="343" y="405" width="1" height="1"/><rect x="346" y="405" width="1" height="1"/><rect x="349" y="405" width="1" height="1"/><rect x="352" y="405" width="1" height="1"/><rect x="355" y="405" width="1" height="1"/><rect x="358" y="405" width="1" height="1"/><rect x="361" y="405" width="1" height="1"/><rect x="364" y="405" width="1" height="1"/><rect x="367" y="405" width="1" height="1"/><rect x="370" y="405" width="1" height="1"/><rect x="373" y="405" width="1" height="1"/><rect x="376" y="405" width="1" height="1"/><rect x="379" y="405" width="1" height="1"/><rect x="382" y="405" width="1" height="1"/><rect x="385" y="405" width="1" height="1"/><rect x="388" y="405" width="1" height="1"/><rect x="391" y="405" width="1" height="1"/><rect x="394" y="405" width="1" height="1"/><rect x="397" y="405" width="1" height="1"/><rect x="400" y="405" width="1" height="1"/><rect x="403" y="405" width="1" height="1"/><rect x="406" y="405" width="1" height="1"/><rect x="409" y="405" width="1" height="1"/><rect x="412" y="405" width="1" height="1"/><rect x="415" y="405" width="1" height="1"/><rect x="418" y="405" width="1" height="1"/><rect x="421" y="405" width="1" height="1"/><rect x="424" y="405" width="1" height="1"/><rect x="427" y="405" width="1" height="1"/><rect x="430" y="405" width="1" height="1"/><rect x="433" y="405" width="1" height="1"/><rect x="436" y="405" width="1" height="1"/><rect x="439" y="405" width="1" height="1"/><rect x="442" y="405" width="1" height="1"/><rect x="445" y="405" width="1" height="1"/><rect x="448" y="405" width="1" height="1"/><rect x="451" y="405" width="1" height="1"/><rect x="454" y="405" width="1" height="1"/><rect x="457" y="405" width="1" height="1"/><rect x="460" y="405" width="1" height="1"/><rect x="463" y="405" width="1" height="1"/><rect x="466" y="405" width="1" height="1"/><rect x="469" y="405" width="1" height="1"/><rect x="472" y="405" width="1" height="1"/><rect x="475" y="405" width="1" height="1"/><rect x="478" y="405" width="1" height="1"/><rect x="481" y="405" width="1" height="1"/><rect x="484" y="405" width="1" height="1"/><rect x="487" y="405" width="1" height="1"/><rect x="490" y="405" width="1" height="1"/><rect x="493" y="405" width="1" height="1"/><rect x="496" y="405" width="1" height="1"/><rect x="499" y="405" width="1" height="1"/><rect x="502" y="405" width="1" height="1"/><rect x="505" y="405" width="1" height="1"/><rect x="508" y="405" width="1" height="1"/><rect x="511" y="405" width="1" height="1"/><rect x="514" y="405" width="1" height="1"/><rect x="517" y="405" width="1" height="1"/><rect x="520" y="405" width="1" height="1"/><rect x="523" y="405" width="1" height="1"/><rect x="526" y="405" width="1" height="1"/><rect x="529" y="405" width="1" height="1"/><rect x="532" y="405" width="1" height="1"/><rect x="535" y="405" width="1" height="1"/><rect x="538" y="405" width="1" height="1"/><rect x="541" y="405" width="1" height="1"/><rect x="544" y="405" width="1" height="1"/><rect x="547" y="405" width="1" height="1"/><rect x="550" y="405" width="1" height="1"/><rect x="553" y="405" width="1" height="1"/><rect x="556" y="405" width="1" height="1"/><rect x="559" y="405" width="1" height="1"/><rect x="562" y="405" width="1" height="1"/><rect x="565" y="405" width="1" height="1"/><rect x="568" y="405" width="1" height="1"/><rect x="571" y="405" width="1" height="1"/><rect x="574" y="405" width="1" height="1"/><rect x="577" y="405" width="1" height="1"/><rect x="580" y="405" width="1" height="1"/><rect x="583" y="405" width="1" height="1"/><rect x="586" y="405" width="1" height="1"/><rect x="589" y="405" width="1" height="1"/><rect x="592" y="405" width="1" height="1"/><rect x="595" y="405" width="1" height="1"/><rect x="598" y="405" width="1" height="1"/><rect x="601" y="405" width="1" height="1"/><rect x="604" y="405" width="1" height="1"/><rect x="607" y="405" width="1" height="1"/><rect x="610" y="405" width="1" height="1"/><rect x="613" y="405" width="1" height="1"/><rect x="616" y="405" width="1" height="1"/><rect x="619" y="405" width="1" height="1"/><rect x="622" y="405" width="1" height="1"/><rect x="625" y="405" width="1" height="1"/><rect x="628" y="405" width="1" height="1"/><rect x="631" y="405" width="1" height="1"/><rect x="634" y="405" width="1" height="1"/><rect x="637" y="405" width="1" height="1"/><rect x="640" y="405" width="1" height="1"/><rect x="643" y="405" width="1" height="1"/><rect x="646" y="405" width="1" height="1"/><rect x="649" y="405" width="1" height="1"/><rect x="652" y="405" width="1" height="1"/><rect x="655" y="405" width="1" height="1"/><rect x="658" y="405" width="1" height="1"/><rect x="661" y="405" width="1" height="1"/><rect x="664" y="405" width="1" height="1"/><rect x="667" y="405" width="1" height="1"/><rect x="670" y="405" width="1" height="1"/><rect x="673" y="405" width="1" height="1"/><rect x="676" y="405" width="1" height="1"/><rect x="679" y="405" width="1" height="1"/><rect x="682" y="405" width="1" height="1"/><rect x="685" y="405" width="1" height="1"/><rect x="688" y="405" width="1" height="1"/><rect x="691" y="405" width="1" height="1"/><rect x="694" y="405" width="1" height="1"/><rect x="697" y="405" width="1" height="1"/><rect x="700" y="405" width="1" height="1"/><rect x="703" y="405" width="1" height="1"/><rect x="706" y="405" width="1" height="1"/><rect x="709" y="405" width="1" height="1"/><rect x="712" y="405" width="1" height="1"/><rect x="715" y="405" width="1" height="1"/><rect x="718" y="405" width="1" height="1"/><rect x="721" y="405" width="1" height="1"/><rect x="724" y="405" width="1" height="1"/><rect x="727" y="405" width="1" height="1"/><rect x="730" y="405" width="1" height="1"/><rect x="733" y="405" width="1" height="1"/><rect x="736" y="405" width="1" height="1"/><rect x="739" y="405" width="1" height="1"/><rect x="742" y="405" width="1" height="1"/><rect x="745" y="405" width="1" height="1"/><rect x="748" y="405" width="1" height="1"/><rect x="751" y="405" width="1" height="1"/><rect x="754" y="405" width="1" height="1"/><rect x="757" y="405" width="1" height="1"/><rect x="760" y="405" width="1" height="1"/><rect x="763" y="405" width="1" height="1"/><rect x="766" y="405" width="1" height="1"/><rect x="769" y="405" width="1" height="1"/><rect x="772" y="405" width="1" height="1"/><rect x="775" y="405" width="1" height="1"/><rect x="778" y="405" width="1" height="1"/><rect x="781" y="405" width="1" height="1"/><rect x="784" y="405" width="1" height="1"/><rect x="787" y="405" width="1" height="1"/><rect x="790" y="405" width="1" height="1"/><rect x="793" y="405" width="1" height="1"/><rect x="796" y="405" width="1" height="1"/><rect x="799" y="405" width="1" height="1"/><rect x="802" y="405" width="1" height="1"/><rect x="805" y="405" width="1" height="1"/><rect x="808" y="405" width="1" height="1"/><rect x="811" y="405" width="1" height="1"/><rect x="814" y="405" width="1" height="1"/><rect x="817" y="405" width="1" height="1"/><rect x="820" y="405" width="1" height="1"/><rect x="823" y="405" width="1" height="1"/><rect x="826" y="405" width="1" height="1"/><rect x="829" y="405" width="1" height="1"/><rect x="832" y="405" width="1" height="1"/><rect x="835" y="405" width="1" height="1"/><rect x="838" y="405" width="1" height="1"/><rect x="841" y="405" width="1" height="1"/><rect x="844" y="405" width="1" height="1"/><rect x="847" y="405" width="1" height="1"/><rect x="850" y="405" width="1" height="1"/><rect x="853" y="405" width="1" height="1"/><rect x="856" y="405" width="1" height="1"/><rect x="859" y="405" width="1" height="1"/><rect x="862" y="405" width="1" height="1"/><rect x="865" y="405" width="1" height="1"/><rect x="868" y="405" width="1" height="1"/><rect x="871" y="405" width="1" height="1"/><rect x="874" y="405" width="1" height="1"/><rect x="877" y="405" width="1" height="1"/><rect x="880" y="405" width="1" height="1"/><rect x="883" y="405" width="1" height="1"/><rect x="886" y="405" width="1" height="1"/><rect x="889" y="405" width="1" height="1"/><rect x="892" y="405" width="1" height="1"/><rect x="895" y="405" width="1" height="1"/><rect x="898" y="405" width="1" height="1"/><rect x="901" y="405" width="1" height="1"/><rect x="904" y="405" width="1" height="1"/><rect x="907" y="405" width="1" height="1"/><rect x="910" y="405" width="1" height="1"/><rect x="913" y="405" width="1" height="1"/><rect x="916" y="405" width="1" height="1"/><rect x="919" y="405" width="1" height="1"/><rect x="922" y="405" width="1" height="1"/><rect x="925" y="405" width="1" height="1"/><rect x="928" y="405" width="1" height="1"/><rect x="931" y="405" width="1" height="1"/><rect x="934" y="405" width="1" height="1"/><rect x="937" y="405" width="1" height="1"/><rect x="940" y="405" width="1" height="1"/><rect x="943" y="405" width="1" height="1"/><rect x="946" y="405" width="1" height="1"/><rect x="949" y="405" width="1" height="1"/><rect x="952" y="405" width="1" height="1"/><rect x="955" y="405" width="1" height="1"/><rect x="958" y="405" width="1" height="1"/><rect x="961" y="405" width="1" height="1"/><rect x="964" y="405" width="1" height="1"/><rect x="967" y="405" width="1" height="1"/><rect x="970" y="405" width="1" height="1"/><rect x="973" y="405" width="1" height="1"/><rect x="976" y="405" width="1" height="1"/><rect x="979" y="405" width="1" height="1"/><rect x="982" y="405" width="1" height="1"/><rect x="985" y="405" width="1" height="1"/><rect x="988" y="405" width="1" height="1"/><rect x="991" y="405" width="1" height="1"/><rect x="994" y="405" width="1" height="1"/><rect x="997" y="405" width="1" height="1"/><rect x="1000" y="405" width="1" height="1"/><rect x="1003" y="405" width="1" height="1"/><rect x="1006" y="405" width="1" height="1"/><rect x="1009" y="405" width="1" height="1"/><rect x="1012" y="405" width="1" height="1"/><rect x="1015" y="405" width="1" height="1"/><rect x="1018" y="405" width="1" height="1"/><rect x="1021" y="405" width="1" height="1"/><rect x="1024" y="405" width="1" height="1"/><rect x="1027" y="405" width="1" height="1"/><rect x="1030" y="405" width="1" height="1"/><rect x="1033" y="405" width="1" height="1"/><rect x="1036" y="405" width="1" height="1"/><rect x="1039" y="405" width="1" height="1"/><rect x="1042" y="405" width="1" height="1"/><rect x="1045" y="405" width="1" height="1"/><rect x="1048" y="405" width="1" height="1"/><rect x="1051" y="405" width="1" height="1"/><rect x="1054" y="405" width="1" height="1"/><rect x="1057" y="405" width="1" height="1"/><rect x="1060" y="405" width="1" height="1"/><rect x="1063" y="405" width="1" height="1"/><rect x="1066" y="405" width="1" height="1"/><rect x="1069" y="405" width="1" height="1"/><rect x="1072" y="405" width="1" height="1"/><rect x="1075" y="405" width="1" height="1"/><rect x="1078" y="405" width="1" height="1"/><rect x="1081" y="405" width="1" height="1"/><rect x="1084" y="405" width="1" height="1"/><rect x="1087" y="405" width="1" height="1"/><rect x="1090" y="405" width="1" height="1"/><rect x="1093" y="405" width="1" height="1"/><rect x="1096" y="405" width="1" height="1"/><rect x="1099" y="405" width="1" height="1"/><rect x="1102" y="405" width="1" height="1"/><rect x="1105" y="405" width="1" height="1"/><rect x="1108" y="405" width="1" height="1"/><rect x="1111" y="405" width="1" height="1"/><rect x="1114" y="405" width="1" height="1"/><rect x="1117" y="405" width="1" height="1"/><rect x="1120" y="405" width="1" height="1"/><rect x="1123" y="405" width="1" height="1"/><rect x="1126" y="405" width="1" height="1"/><rect x="1129" y="405" width="1" height="1"/><rect x="1132" y="405" width="1" height="1"/><rect x="1135" y="405" width="1" height="1"/><rect x="1138" y="405" width="1" height="1"/><rect x="1141" y="405" width="1" height="1"/><rect x="1144" y="405" width="1" height="1"/><rect x="1147" y="405" width="1" height="1"/><rect x="1150" y="405" width="1" height="1"/><rect x="1153" y="405" width="1" height="1"/><rect x="1156" y="405" width="1" height="1"/><rect x="1159" y="405" width="1" height="1"/><rect x="1162" y="405" width="1" height="1"/><rect x="1165" y="405" width="1" height="1"/><rect x="1168" y="405" width="1" height="1"/><rect x="1171" y="405" width="1" height="1"/><rect x="1174" y="405" width="1" height="1"/><rect x="1177" y="405" width="1" height="1"/><rect x="1180" y="405" width="1" height="1"/><rect x="1183" y="405" width="1" height="1"/><rect x="1186" y="405" width="1" height="1"/><rect x="1189" y="405" width="1" height="1"/><rect x="1192" y="405" width="1" height="1"/><rect x="1195" y="405" width="1" height="1"/><rect x="1198" y="405" width="1" height="1"/><rect x="1201" y="405" width="1" height="1"/><rect x="1204" y="405" width="1" height="1"/>
</g>
<!--TEXT-->
<g fill="#1a1c20" stroke="#1a1c20">
<text x="10.3" y="18.8" font-size="12.5" textLength="66.5" lengthAdjust="spacingAndGlyphs">tobiwrites26</text>
<text x="81.2" y="18.8" font-size="12.5" textLength="49.9" lengthAdjust="spacingAndGlyphs">published</text>
<text x="136.1" y="18.8" font-size="12.5" textLength="11.9" lengthAdjust="spacingAndGlyphs">on</text>
<text x="153.3" y="18.8" font-size="12.5" textLength="93.3" lengthAdjust="spacingAndGlyphs">TradingView.com,</text>
<text x="251.2" y="18.8" font-size="12.5" textLength="18.1" lengthAdjust="spacingAndGlyphs">Apr</text>
<text x="274.2" y="18.8" font-size="12.5" textLength="13.6" lengthAdjust="spacingAndGlyphs">11,</text>
<text x="293.6" y="18.8" font-size="12.5" textLength="24.3" lengthAdjust="spacingAndGlyphs">2025</text>
<text x="323.1" y="18.8" font-size="12.5" textLength="28.6" lengthAdjust="spacingAndGlyphs">17:24</text>
<text x="357.0" y="18.8" font-size="12.5" textLength="20" lengthAdjust="spacingAndGlyphs">UTC</text>
<text x="18.1" y="46" font-size="12" textLength="68.4" lengthAdjust="spacingAndGlyphs">POPCATUSDT</text>
<text x="91.1" y="46" font-size="12" textLength="26.4" lengthAdjust="spacingAndGlyphs">SPOT</text>
<text x="131.0" y="46" font-size="12" textLength="13" lengthAdjust="spacingAndGlyphs">1D</text>
<text x="155.4" y="46" font-size="12" textLength="29.5" lengthAdjust="spacingAndGlyphs">BYBIT</text>
<text x="124.2" y="46" font-size="12" font-weight="bold" text-anchor="middle">·</text>
<text x="149.8" y="46" font-size="12" font-weight="bold" text-anchor="middle">·</text>
<text x="193.6" y="46" font-size="12" textLength="7.8" lengthAdjust="spacingAndGlyphs">O</text>
<text x="244" y="46" font-size="12" textLength="7.4" lengthAdjust="spacingAndGlyphs">H</text>
<text x="295.6" y="46" font-size="12" textLength="5.6" lengthAdjust="spacingAndGlyphs">L</text>
<text x="344.3" y="46" font-size="12" textLength="7.6" lengthAdjust="spacingAndGlyphs">C</text>
</g>
<g fill="#089981" font-size="12" stroke="#089981">
<text x="201.5" y="46" textLength="36" lengthAdjust="spacingAndGlyphs">0.1746</text>
<text x="251.5" y="46" textLength="37" lengthAdjust="spacingAndGlyphs">0.2276</text>
<text x="301" y="46" textLength="37" lengthAdjust="spacingAndGlyphs">0.1702</text>
<text x="352" y="46" textLength="36" lengthAdjust="spacingAndGlyphs">0.2214</text>
<text x="395.5" y="46" textLength="97.5" lengthAdjust="spacingAndGlyphs">+0.0468 (+26.80%)</text>
</g>
<text x="933" y="178.9" font-size="11" fill="#1a1c20" textLength="114" lengthAdjust="spacingAndGlyphs" stroke="#1a1c20">0.7740 (370.35%) 7,740</text>
<g fill="#1a1c20" font-size="12" text-anchor="middle" stroke="#1a1c20">
<text x="122.8" y="570.3">Nov</text>
<text x="273" y="570.3">Dec</text>
<text x="585.6" y="570.3">Feb</text>
<text x="726" y="570.3">Mar</text>
<text x="882" y="570.3">Apr</text>
<text x="1033" y="570.3">May</text>
<text x="1188.5" y="570.3">Jun</text>
<text x="429" y="570.3" font-weight="bold">2025</text>
</g>
<g fill="#1a1c20" font-size="12" stroke="#1a1c20">
<text x="1214" y="77.3" textLength="35.5" lengthAdjust="spacingAndGlyphs">2.4000</text>
<text x="1214" y="117.1" textLength="35.5" lengthAdjust="spacingAndGlyphs">1.8000</text>
<text x="1214" y="152.5" textLength="35.5" lengthAdjust="spacingAndGlyphs">1.4000</text>
<text x="1214" y="185.8" textLength="35.5" lengthAdjust="spacingAndGlyphs">1.1000</text>
<text x="1214" y="229.9" textLength="35.5" lengthAdjust="spacingAndGlyphs">0.8000</text>
<text x="1214" y="269.9" textLength="35.5" lengthAdjust="spacingAndGlyphs">0.6000</text>
<text x="1214" y="310.7" textLength="35.5" lengthAdjust="spacingAndGlyphs">0.4500</text>
<text x="1214" y="346.0" textLength="35.5" lengthAdjust="spacingAndGlyphs">0.3500</text>
<text x="1214" y="381.9" textLength="35.5" lengthAdjust="spacingAndGlyphs">0.2700</text>
<text x="1214" y="489.3" textLength="35.5" lengthAdjust="spacingAndGlyphs">0.1250</text>
<text x="1214" y="519.9" textLength="35.5" lengthAdjust="spacingAndGlyphs">0.1000</text>
<text x="1214" y="550.6" textLength="35.5" lengthAdjust="spacingAndGlyphs">0.0800</text>
</g>
<g>
<rect x="1206" y="84.0" width="49" height="17.0" rx="1.5" fill="#000"/>
<rect x="1206" y="121.0" width="49" height="17.0" rx="1.5" fill="#000"/>
<rect x="1206" y="189.0" width="49" height="17.0" rx="1.5" fill="#000"/>
<rect x="1206" y="307.0" width="49" height="17.0" rx="1.5" fill="#000"/>
<rect x="1206" y="380.0" width="49" height="17.0" rx="1.5" fill="#000"/>
<rect x="1206" y="485.0" width="49" height="17.0" rx="1.5" fill="#000"/>
<rect x="1206" y="428" width="49" height="33.5" rx="1.5" fill="#000"/>
</g>
<g fill="#fff" font-size="12" font-weight="bold" stroke="#fff">
<text x="1214" y="96.8" textLength="36" lengthAdjust="spacingAndGlyphs">2.0821</text>
<text x="1214" y="133.6" textLength="36" lengthAdjust="spacingAndGlyphs">1.5999</text>
<text x="1214" y="201.7" textLength="36" lengthAdjust="spacingAndGlyphs">0.9822</text>
<text x="1214" y="319.9" textLength="36" lengthAdjust="spacingAndGlyphs">0.4219</text>
<text x="1214" y="392.7" textLength="36" lengthAdjust="spacingAndGlyphs">0.2252</text>
<text x="1214" y="440.8" textLength="36" lengthAdjust="spacingAndGlyphs">0.2090</text>
<text x="1214" y="457.6" textLength="36" lengthAdjust="spacingAndGlyphs">0.1974</text>
<text x="1214" y="497.8" textLength="36" lengthAdjust="spacingAndGlyphs">0.1178</text>
</g>
<text x="1214" y="410.2" font-size="12" fill="#1a1c20" textLength="36" lengthAdjust="spacingAndGlyphs" stroke="#1a1c20">0.2214</text>
<text x="1214" y="424.3" font-size="12" fill="#5d606b" textLength="46.8" lengthAdjust="spacingAndGlyphs" stroke="#5d606b">06:35:44</text>
<rect x="1209" y="31.5" width="58" height="25.5" rx="4" fill="#fff" stroke="#e0e3eb" stroke-width="1"/>
<text x="1218.3" y="49.2" font-size="12.6" fill="#1a1c20" textLength="28.6" lengthAdjust="spacingAndGlyphs" stroke="#1a1c20">USDT</text>
<g transform="translate(9.9,589.95) scale(0.545)" fill="#15171c" stroke="none"><path d="M14 22H7V11H0V4h14v18z"/><path d="M28 22h-8l7.5-18h8L28 22z"/><circle cx="20" cy="8" r="4"/></g>
<text x="33" y="601.6" font-size="12.6" fill="#1a1c20" textLength="70" lengthAdjust="spacingAndGlyphs" stroke="#1a1c20">TradingView</text>
</svg></body></html>
